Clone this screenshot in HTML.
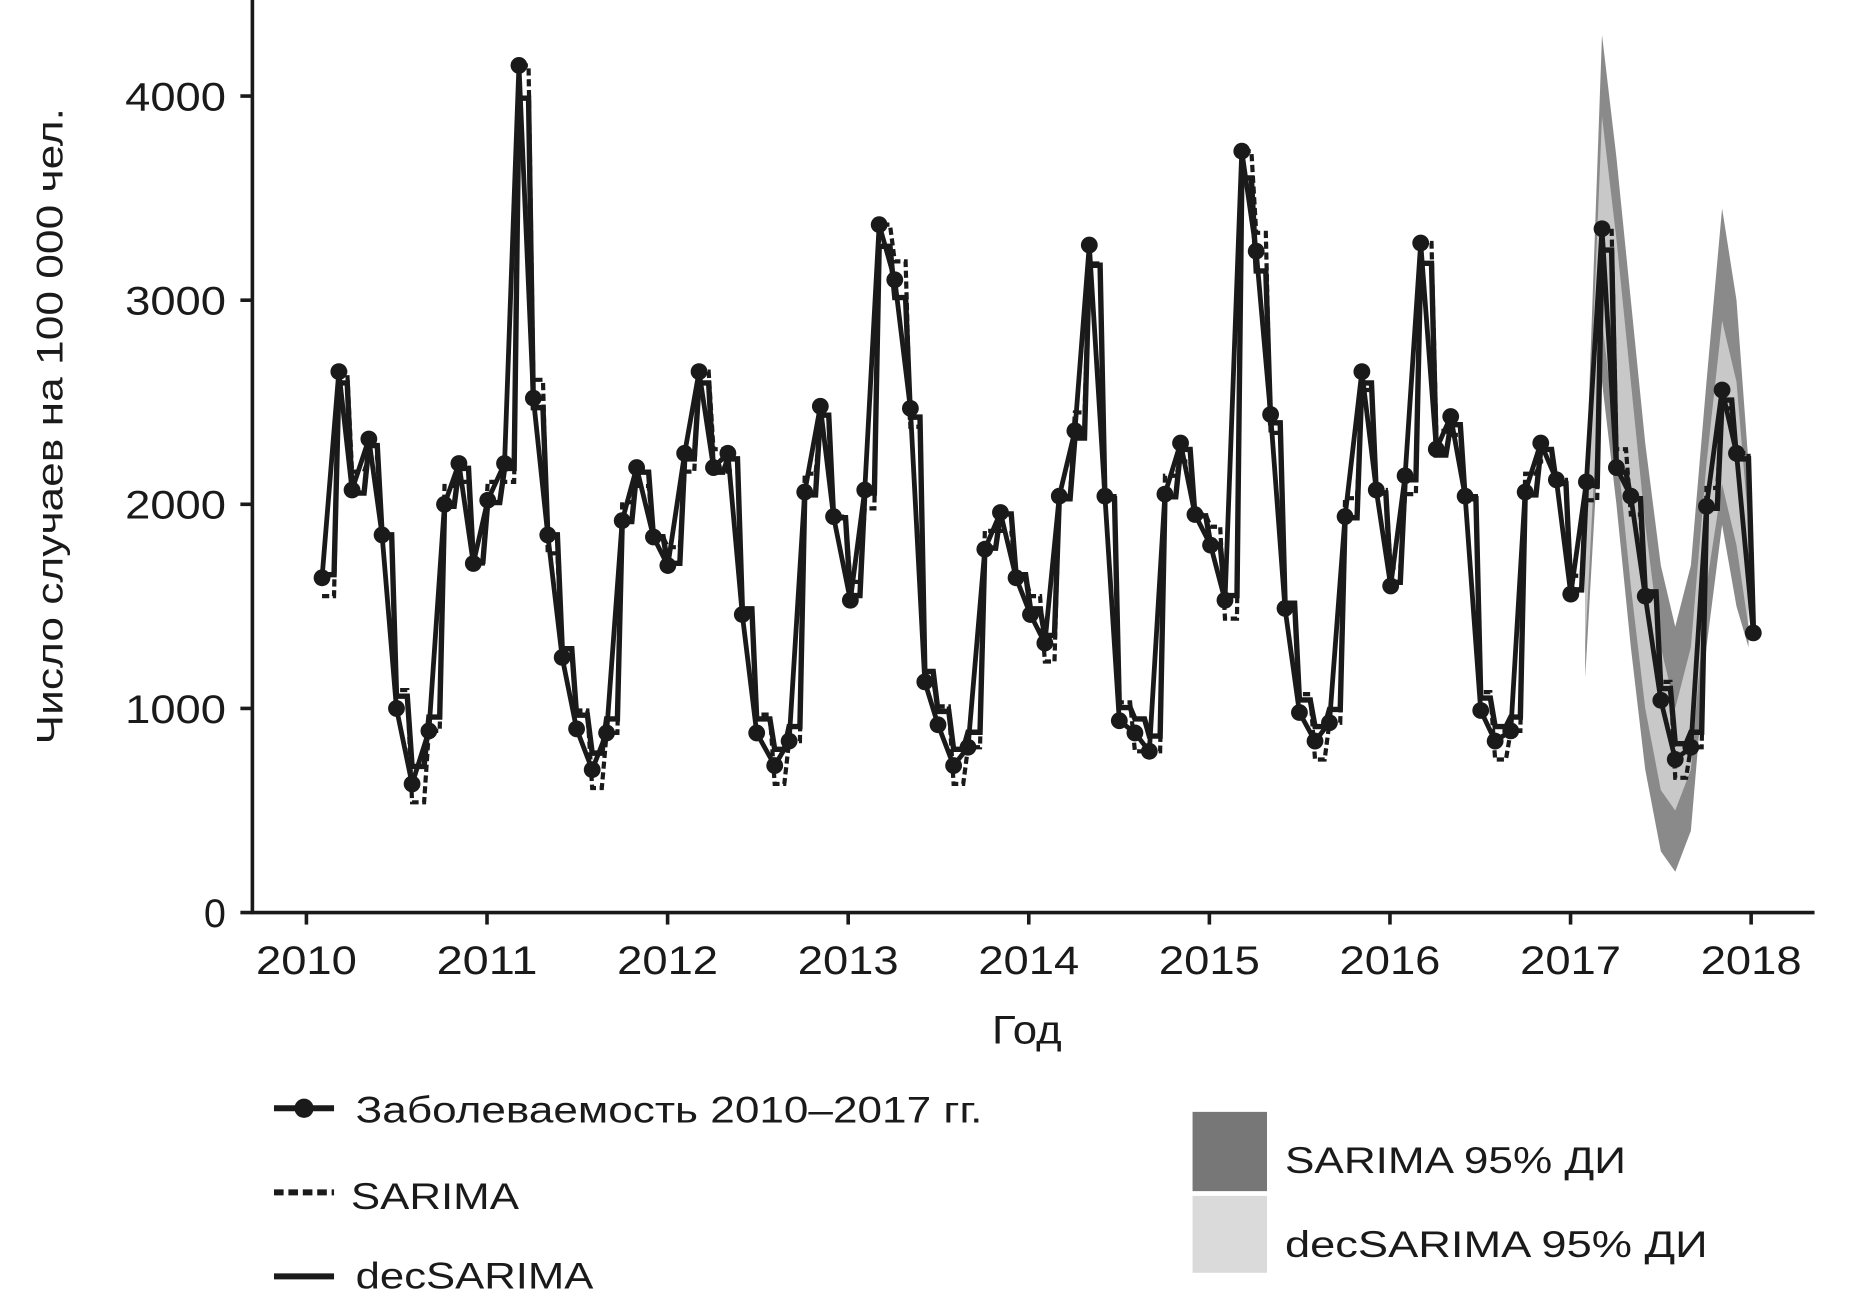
<!DOCTYPE html>
<html><head><meta charset="utf-8"><style>
html,body{margin:0;padding:0;background:#fff}
svg{display:block}
text{font-family:"Liberation Sans",sans-serif;fill:#1a1a1a}
</style></head><body>
<svg id="s" width="1864" height="1316" viewBox="0 0 1552 1096" xmlns="http://www.w3.org/2000/svg">
<g id="bands"></g>
<g id="lines"></g>
<line x1="210" y1="0" x2="210" y2="761" stroke="#1a1a1a" stroke-width="3"/>
<line x1="209" y1="760" x2="1511" y2="760" stroke="#1a1a1a" stroke-width="3"/>
<g stroke="#1a1a1a" stroke-width="3">
<line x1="200" y1="760" x2="210" y2="760"/><line x1="200" y1="590" x2="210" y2="590"/>
<line x1="200" y1="420" x2="210" y2="420"/><line x1="200" y1="250" x2="210" y2="250"/>
<line x1="200" y1="80" x2="210" y2="80"/>
</g>
<g id="xt" stroke="#1a1a1a" stroke-width="3"></g>
<g font-size="33" text-anchor="end">
<text x="188" y="772">0</text>
<text x="188" y="602" textLength="84" lengthAdjust="spacingAndGlyphs">1000</text>
<text x="188" y="432" textLength="84" lengthAdjust="spacingAndGlyphs">2000</text>
<text x="188" y="262" textLength="84" lengthAdjust="spacingAndGlyphs">3000</text>
<text x="188" y="92" textLength="84" lengthAdjust="spacingAndGlyphs">4000</text>
</g>
<g id="xl" font-size="33" text-anchor="middle"></g>
<text x="826" y="869" font-size="33" textLength="58" lengthAdjust="spacingAndGlyphs">Год</text>
<text transform="translate(52,355) rotate(-90)" font-size="31" text-anchor="middle" textLength="530" lengthAdjust="spacingAndGlyphs">Число случаев на 100 000 чел.</text>
<line x1="228" y1="923" x2="278" y2="923" stroke="#1a1a1a" stroke-width="5"/>
<circle cx="253" cy="923" r="8" fill="#1a1a1a"/>
<text x="296" y="935" font-size="31" textLength="522" lengthAdjust="spacingAndGlyphs">Заболеваемость 2010–2017 гг.</text>
<line x1="228" y1="993" x2="278" y2="993" stroke="#1a1a1a" stroke-width="5" stroke-dasharray="8,4"/>
<text x="292" y="1007" font-size="31" textLength="140" lengthAdjust="spacingAndGlyphs">SARIMA</text>
<line x1="228" y1="1063" x2="278" y2="1063" stroke="#1a1a1a" stroke-width="5"/>
<text x="296" y="1073" font-size="31" textLength="198" lengthAdjust="spacingAndGlyphs">decSARIMA</text>
<rect x="993" y="926" width="62" height="66" fill="#777"/>
<rect x="993" y="996" width="62" height="64" fill="#dadada"/>
<text x="1070" y="977" font-size="31" textLength="284" lengthAdjust="spacingAndGlyphs">SARIMA 95% ДИ</text>
<text x="1070" y="1047" font-size="31" textLength="352" lengthAdjust="spacingAndGlyphs">decSARIMA  95% ДИ</text>
</svg>
<script>
var NS="http://www.w3.org/2000/svg";
function Y(v){return 760-v*0.17;}
function el(t,a,p){var e=document.createElementNS(NS,t);for(var k in a)e.setAttribute(k,a[k]);document.getElementById(p).appendChild(e);return e;}
for(var i=0;i<=8;i++){var x=255+i*150.4;el("line",{x1:x,y1:760,x2:x,y2:770},"xt");var t=el("text",{x:x,y:811,textLength:84,lengthAdjust:"spacingAndGlyphs"},"xl");t.textContent=2010+i;}
var obs=[[268,1640],[282,2650],[293,2070],[307,2320],[318,1850],[330,1000],[343,630],[357,890],[370,2000],[382,2200],[394,1710],[406,2020],[420,2200],[432,4150],[444,2520],[456,1850],[468,1250],[480,900],[493,700],[505,880],[518,1920],[530,2180],[544,1840],[556,1700],[570,2250],[582,2650],[594,2180],[606,2250],[618,1460],[630,880],[645,720],[657,840],[670,2060],[683,2480],[694,1940],[708,1530],[720,2070],[732,3370],[745,3100],[758,2470],[770,1130],[781,920],[794,720],[806,810],[820,1780],[833,1960],[846,1640],[858,1460],[870,1320],[882,2040],[895,2360],[907,3270],[920,2040],[932,940],[945,880],[957,790],[970,2050],[983,2300],[995,1950],[1008,1800],[1020,1530],[1034,3730],[1046,3240],[1058,2440],[1070,1490],[1082,980],[1095,840],[1107,930],[1120,1940],[1134,2650],[1146,2070],[1158,1600],[1170,2140],[1183,3280],[1196,2270],[1208,2430],[1220,2040],[1233,990],[1245,840],[1258,890],[1270,2060],[1283,2300],[1296,2120],[1308,1560],[1321,2110],[1334,3350],[1346,2180],[1358,2040],[1370,1550],[1383,1040],[1395,750],[1408,810],[1421,1990],[1434,2560],[1446,2250],[1460,1370]];
var bx=[1320,1334,1346,1358,1370,1383,1395,1408,1421,1434,1446,1456];
var du=[2000,4300,3700,3000,2300,1700,1400,1700,2600,3450,3000,2200];
var dl=[1150,2600,2000,1300,700,300,200,400,1300,1900,1500,1300];
var lu=[1900,3900,3300,2600,1900,1300,1000,1300,2200,2900,2600,1900];
var ll=[1300,2900,2300,1600,1000,600,500,700,1600,2100,1800,1400];
function band(u,l,c){var d="M";for(var i=0;i<bx.length;i++)d+=bx[i]+","+Y(u[i])+" ";for(var i=bx.length-1;i>=0;i--)d+=bx[i]+","+Y(l[i])+" ";el("path",{d:d+"Z",fill:c},"bands");}
band(du,dl,"#8a8a8a");band(lu,ll,"#c8c8c8");
function step(pts,f){var d="M"+pts[0][0]+","+Y(f(pts[0][1],0));for(var i=1;i<pts.length;i++){var v=f(pts[i][1],i);d+=" H"+(pts[i][0]-4)+" L"+pts[i][0]+","+Y(v);}return d;}
el("path",{d:step(obs,function(v,i){return v+((i%3)-1)*90;}),fill:"none",stroke:"#1a1a1a","stroke-width":3.5,"stroke-dasharray":"6,3"},"lines");
el("path",{d:step(obs,function(v,i){return v*0.93+130;}),fill:"none",stroke:"#1a1a1a","stroke-width":4.5},"lines");
var d="M"+obs.map(function(p){return p[0]+","+Y(p[1]);}).join(" L");
el("path",{d:d,fill:"none",stroke:"#1a1a1a","stroke-width":4},"lines");
obs.forEach(function(p){el("circle",{cx:p[0],cy:Y(p[1]),r:7,fill:"#1a1a1a"},"lines");});
</script>
</body></html>
